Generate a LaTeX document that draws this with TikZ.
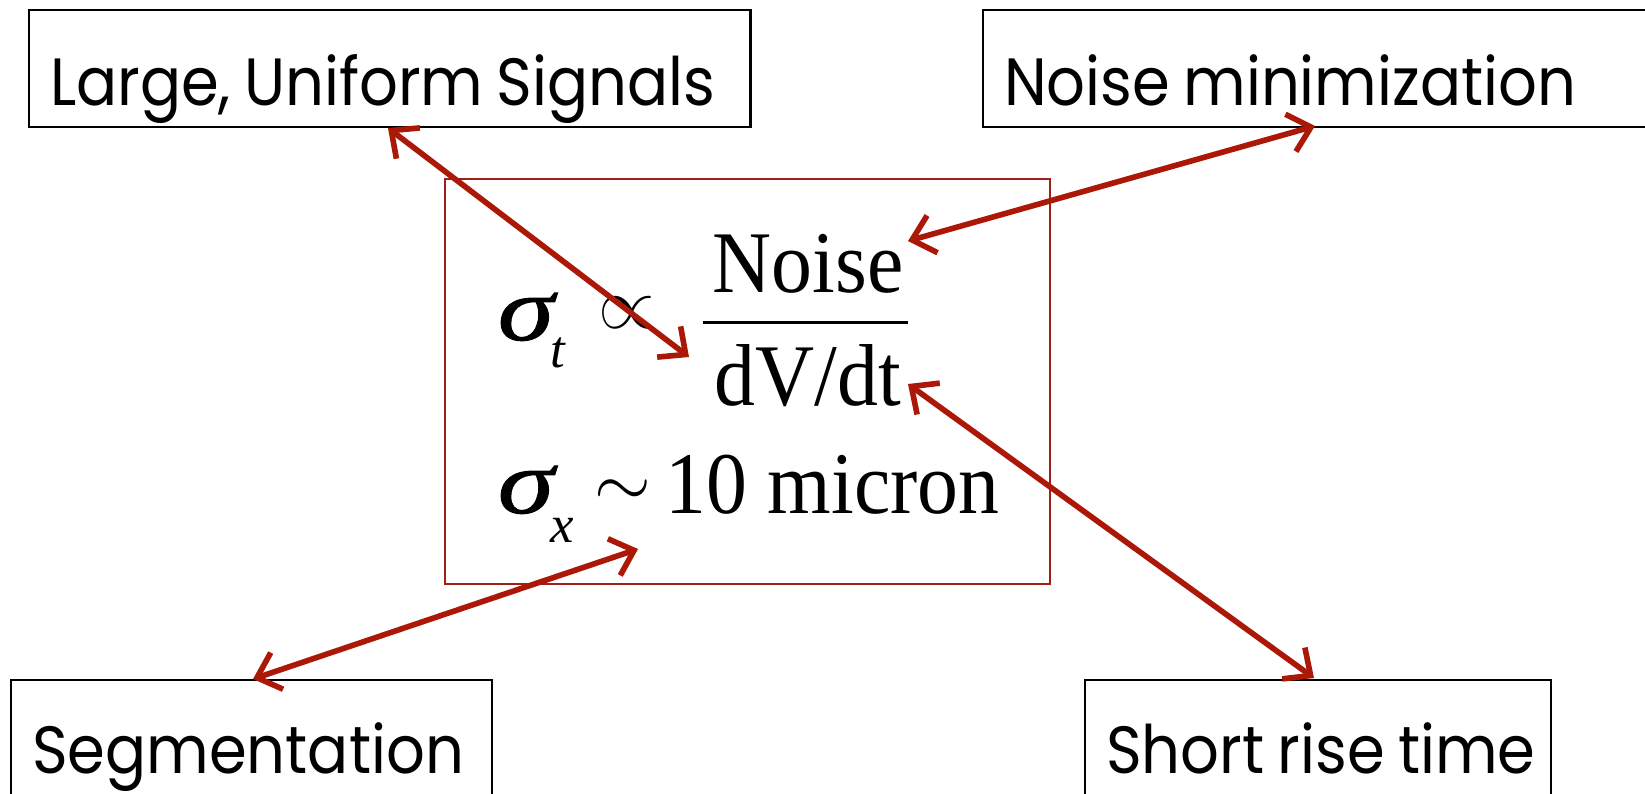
\documentclass[tikz,border=0pt]{standalone}
\usepackage{amsmath}
\usepackage{fontspec}
\setmainfont{Liberation Serif}
\newfontfamily\boxfont[FakeStretch=0.91]{Poppins}
\newfontfamily\eqfont[FakeStretch=0.93]{Liberation Serif}
\newfontfamily\greekfont[FakeStretch=1.25, FakeBold=1]{Liberation Serif}
\newcommand\tagtext[1]{\mbox{\spaceskip=0.2em\relax #1}}
\usepackage{tikz}
\usetikzlibrary{arrows.meta}
\definecolor{linkred}{RGB}{172,24,8}
\definecolor{framered}{RGB}{160,32,24}

\begin{document}
\begin{tikzpicture}[
  x=0.01cm, y=-0.01cm,
  tag/.style={draw, line width=0.6pt, align=left, anchor=base west,
    inner xsep=0.21cm, inner ysep=0pt,
    font=\boxfont\fontsize{19}{23}\selectfont},
  frame/.style={draw=framered, line width=0.5pt, minimum width=6.05cm,
    minimum height=4.05cm, inner sep=0pt},
  eq/.style={inner sep=0pt, anchor=base west, font=\eqfont\fontsize{25}{30}\selectfont},
  greek/.style={inner sep=0pt, anchor=base west, font=\greekfont\fontsize{26}{30}\selectfont\itshape},
  sub/.style={inner sep=0pt, anchor=base west, font=\fontsize{15}{18}\selectfont\itshape},
  link/.style={draw=linkred, line width=1.6pt,
    {Straight Barb[length=6pt,width=11pt]}-{Straight Barb[length=6pt,width=11pt]}}
]
\useasboundingbox (0,0) rectangle (1645,793);

% outer boxes
\node[tag, text width=6.79cm, text height=0.95cm, text depth=0.22cm] (lus) at (28,105) {\tagtext{Large, Uniform Signals}};
\node[tag, text width=6.36cm, text height=0.95cm, text depth=0.22cm] (noise) at (982,105) {\tagtext{Noise minimization}};
\node[tag, text width=4.39cm, text height=0.93cm, text depth=0.40cm] (seg) at (10,773) {\tagtext{Segmentation}};
\node[tag, text width=4.24cm, text height=0.93cm, text depth=0.40cm] (rise) at (1084,773) {\tagtext{Short rise time}};

% central box with the resolution formulas
\node[frame] (eqbox) at (747.5,381.5) {};
\node[greek] (sigt) at (497,340) {σ};
\node[sub] (subt) at (550,367) {t};
\node[inner sep=0pt, font=\fontsize{21}{25}\selectfont] (prop) at (627,313) {$\propto$};
\node[eq, anchor=base] (num) at (808,292) {Noise};
\node[fill, minimum width=2.05cm, minimum height=0.03cm, inner sep=0pt] (bar) at (805.5,322) {};
\node[eq, anchor=base] (den) at (808,405) {dV/dt};
\node[greek] (sigx) at (497,513) {σ};
\node[sub] (subx) at (550,542) {x};
\node[inner sep=0pt, font=\fontsize{22}{26}\selectfont] (tilde) at (623,493) {$\sim$};
\node[eq] (micron) at (665,513) {10 micron};

% arrow ends
\coordinate (lusfoot) at (388,128);
\coordinate (noisefoot) at (1315,126);
\coordinate (segtop) at (253,679);
\coordinate (risetop) at (1314,678);
\coordinate (dvend) at (689,357);
\coordinate (numend) at (908,241);
\coordinate (denend) at (908,384);
\coordinate (micend) at (638,549);

\draw[link] (lusfoot) -- (dvend);
\draw[link] (noisefoot) -- (numend);
\draw[link] (denend) -- (risetop);
\draw[link] (micend) -- (segtop);

\end{tikzpicture}
\end{document}
